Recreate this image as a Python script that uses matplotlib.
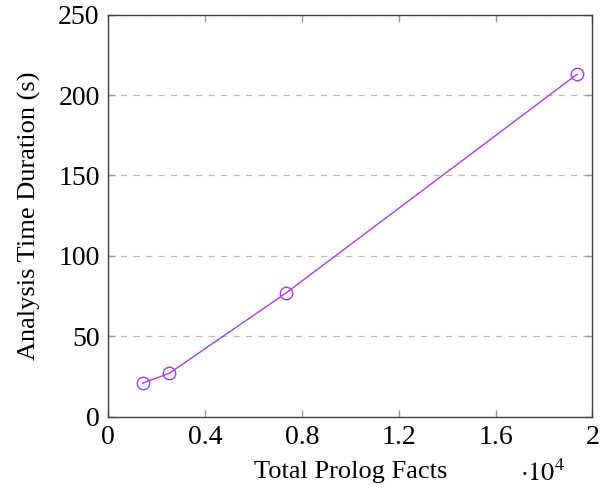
import matplotlib
matplotlib.use("Agg")
import matplotlib.pyplot as plt
import numpy as np

# total prolog facts vs analysis time
facts = [1430, 2530, 7330, 19360]
duration_s = [20.8, 27.0, 76.7, 212.9]

xticks = [0, 0.4, 0.8, 1.2, 1.6, 2]
xticklabels = ["0", "0.4", "0.8", "1.2", "1.6", "2"]
yticks = [0, 50, 100, 150, 200, 250]

plt.rcParams['font.family'] = ['Liberation Serif', 'DejaVu Serif']
plt.rcParams['mathtext.fontset'] = 'stix'

line_color = '#ac3ee0'

fig = plt.figure(figsize=(6.08, 4.98), dpi=100)
ax = fig.add_axes([0.1776, 0.1633, 0.9745 - 0.1776, 0.9705 - 0.1633])

ax.plot(np.array(facts) / 1e4, duration_s, color=line_color, linewidth=1.0,
        marker='o', markersize=9, markerfacecolor='none',
        markeredgecolor=line_color, markeredgewidth=1.0)

ax.set_xlim(0, 2)
ax.set_ylim(0, 250)
ax.set_xticks(xticks)
ax.set_xticklabels(xticklabels)
ax.set_yticks(yticks)

ax.yaxis.grid(True, linestyle=(0, (5, 5)), color='#bbbbbb', linewidth=0.9)
ax.set_axisbelow(True)

ax.tick_params(direction='in', length=5, width=1, color='#999999',
               top=True, right=True, labelsize=20, pad=6)
for s in ax.spines.values():
    s.set_color('#404040')
    s.set_linewidth(1.0)

ax.set_xlabel('Total Prolog Facts', fontsize=19, labelpad=8)
ax.set_ylabel('Analysis Time Duration (s)', fontsize=19, labelpad=12)

fig.text(0.893, 0.025, r'$\cdot 10^4$', fontsize=19, ha='center', va='bottom')

plt.savefig("out.png", dpi=100)
